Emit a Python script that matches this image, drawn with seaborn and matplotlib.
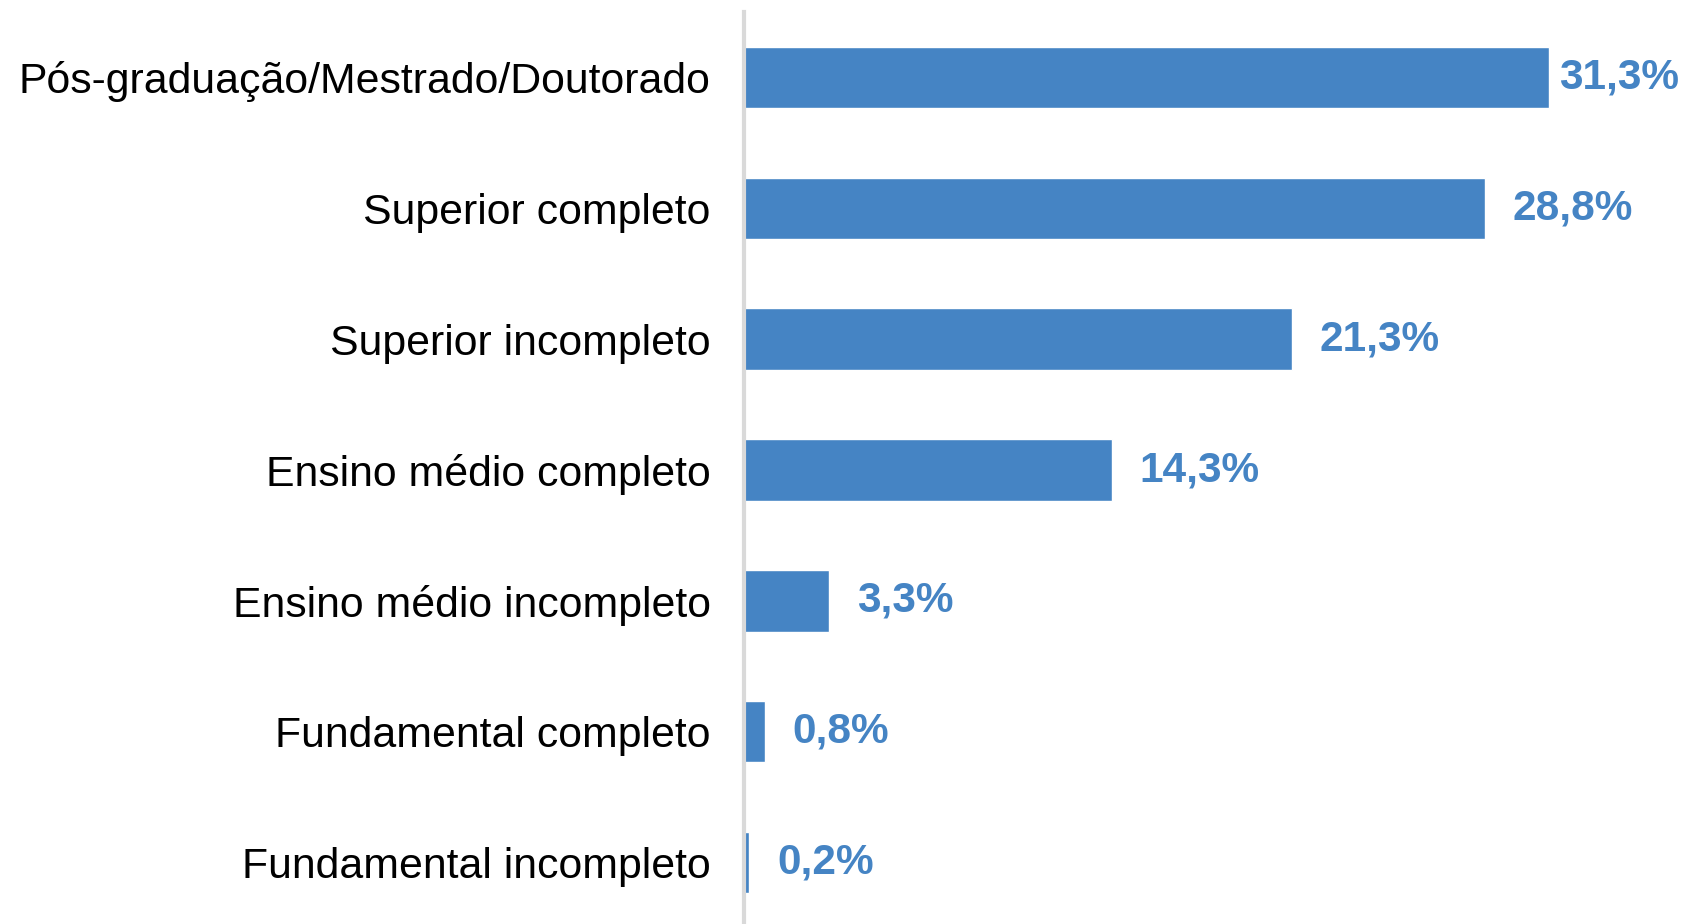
import matplotlib
matplotlib.use('Agg')
import matplotlib.pyplot as plt
import seaborn as sns
import pandas as pd

# Escolaridade dos respondentes (%)
categorias = ['Pós-graduação/Mestrado/Doutorado', 'Superior completo', 'Superior incompleto',
              'Ensino médio completo', 'Ensino médio incompleto', 'Fundamental completo',
              'Fundamental incompleto']
valores = [31.3, 28.8, 21.3, 14.3, 3.3, 0.8, 0.2]
rotulos = ['31,3%', '28,8%', '21,3%', '14,3%', '3,3%', '0,8%', '0,2%']

df = pd.DataFrame({'categoria': categorias, 'valor': valores})

sns.set_style('white')
plt.rcParams['font.family'] = ['Liberation Sans', 'DejaVu Sans']

azul = '#4584C4'

fig = plt.figure(figsize=(16.86, 9.24), dpi=100)
ax = fig.add_axes([744 / 1686, -4 / 924, (1686 - 744) / 1686, (924 - 12 + 4) / 924])

sns.barplot(data=df, y='categoria', x='valor', color=azul, saturation=1,
            width=0.47, orient='h', ax=ax)

ax.set_xlim(0, 31.3 * 942 / 805)
ax.set_ylim(6.5, -0.5)

# rótulos de valor
for i, (v, txt) in enumerate(zip(valores, rotulos)):
    off = 20 if v < max(valores) else 7
    ax.annotate(txt, xy=(v, i), xytext=(off, 0), textcoords='offset points',
                va='center', ha='left', fontsize=30.5, fontweight='bold', color=azul)

ax.set_xlabel('')
ax.set_ylabel('')
ax.set_xticks([])
ax.tick_params(axis='y', length=0, pad=24, labelsize=30.8, labelcolor='black')

for s in ['top', 'right', 'bottom']:
    ax.spines[s].set_visible(False)
ax.spines['left'].set_color('#D9D9D9')
ax.spines['left'].set_linewidth(3)

fig.savefig('out.png', dpi=100)
